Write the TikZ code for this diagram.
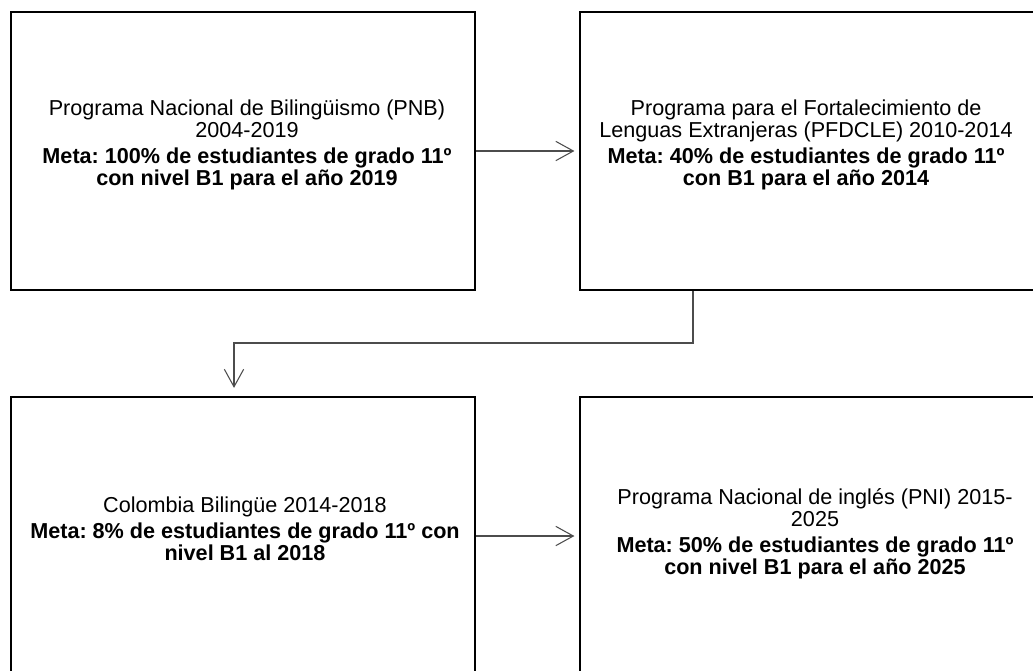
\documentclass[tikz,border=0pt]{standalone}
\usepackage{fontspec}
\setmainfont{Liberation Sans}
\usetikzlibrary{arrows.meta}
\frenchspacing

\tikzset{
  box/.style={draw=black, line width=1.4pt, rectangle, inner sep=0pt,
              minimum height=5.56cm},
  boxleft/.style={box, minimum width=9.28cm},
  boxright/.style={box, minimum width=9.2cm},
  txt/.style={align=center, inner sep=0pt, text=black,
              font=\fontsize{12.3}{12.6}\selectfont},
  conn/.style={draw=black!70, line width=0.6pt,
               -{Straight Barb[length=10pt,width=11pt]}}
}

\begin{document}
\begin{tikzpicture}[x=0.02cm, y=-0.02cm]
\useasboundingbox (0,0) rectangle (1033,670);

% cajas
\node[boxleft]  (b1) at (243,151) {};
\node[boxright] (b2) at (810,151) {};
\node[boxleft]  (b3) at (243,536) {};
\node[boxright] (b4) at (810,536) {};

% textos
\node[txt] (t1) at (247,145) {Programa Nacional de Bilingüismo (PNB)\\2004-2019\\[2pt]
  \textbf{Meta: 100\% de estudiantes de grado 11º}\\\textbf{con nivel B1 para el año 2019}};
\node[txt] (t2) at (806,145) {Programa para el Fortalecimiento de\\Lenguas Extranjeras (PFDCLE) 2010-2014\\[2pt]
  \textbf{Meta: 40\% de estudiantes de grado 11º}\\\textbf{con B1 para el año 2014}};
\node[txt] (t3) at (245,529) {Colombia Bilingüe 2014-2018\\[2pt]
  \textbf{Meta: 8\% de estudiantes de grado 11º con}\\\textbf{nivel B1 al 2018}};
\node[txt] (t4) at (815,534) {Programa Nacional de inglés (PNI) 2015-\\2025\\[2pt]
  \textbf{Meta: 50\% de estudiantes de grado 11º}\\\textbf{con nivel B1 para el año 2025}};

% flechas
\coordinate (j1) at (693,343);
\coordinate (j2) at (234,343);
\draw[conn, shorten >=2.5pt] (b1.east) -- (b2.west);
\draw[conn, shorten >=4.5pt] (b2.south -| j1) -- (j1) -- (j2) -- (j2 |- b3.north);
\draw[conn, shorten >=2.5pt] (b3.east) -- (b4.west);
\end{tikzpicture}
\end{document}
